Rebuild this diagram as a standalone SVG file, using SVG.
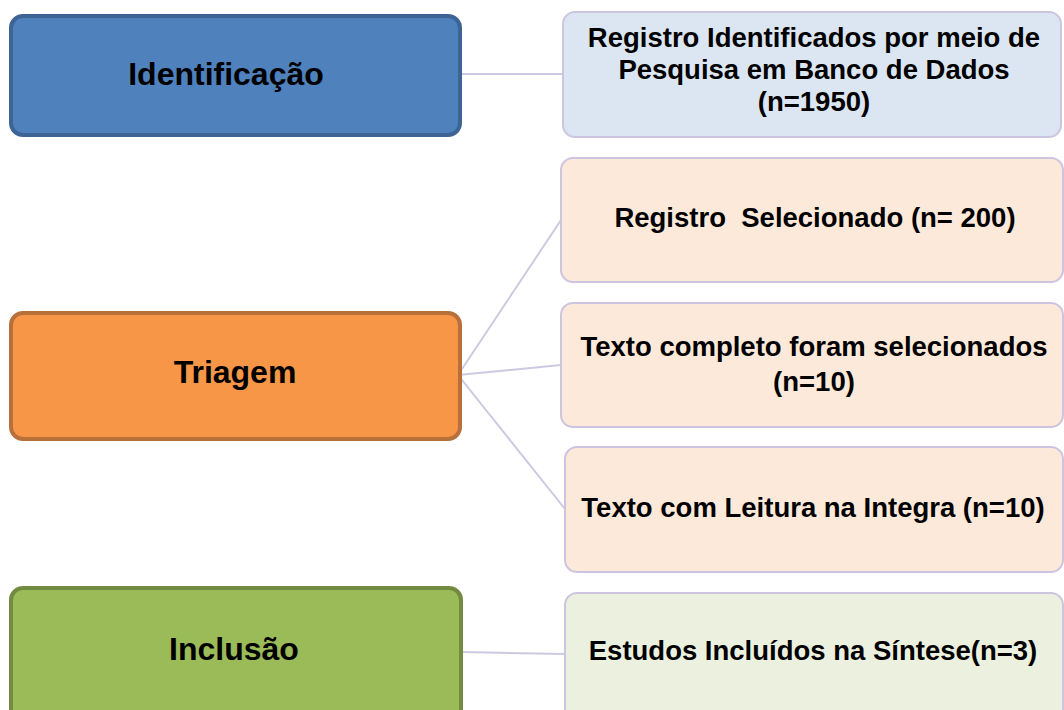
<svg xmlns="http://www.w3.org/2000/svg" width="1064" height="710" viewBox="0 0 1064 710">
<style>
text{font-family:"Liberation Sans",Arial,sans-serif;font-weight:bold;fill:#000;text-anchor:middle}
.big{font-size:32px}
.sm{font-size:27.5px}
.conn{stroke:#cfc8e3;stroke-width:2;fill:none}
.left{stroke-width:4}
.right{stroke:#cdc5e0;stroke-width:2}
</style>
<rect width="1064" height="710" fill="#fff"/>
<g id="connectors">
<line class="conn" x1="461" y1="74" x2="563" y2="74"/>
<line class="conn" x1="458" y1="375" x2="561" y2="220"/>
<line class="conn" x1="458" y1="375" x2="561" y2="365"/>
<line class="conn" x1="458" y1="375" x2="565" y2="509"/>
<line class="conn" x1="462" y1="652" x2="565" y2="654"/>
</g>
<g id="identificacao">
<rect class="left" x="11" y="16" width="449" height="119" rx="12" fill="#4f81bd" stroke="#3d6494"/>
<text class="big" x="226" y="85">Identificação</text>
</g>
<g id="triagem">
<rect class="left" x="11" y="313" width="449" height="126" rx="12" fill="#f79646" stroke="#b8703a"/>
<text class="big" x="235" y="383">Triagem</text>
</g>
<g id="inclusao">
<rect class="left" x="11" y="588" width="450" height="140" rx="12" fill="#9bbb59" stroke="#738b41"/>
<text class="big" x="234" y="660">Inclusão</text>
</g>
<g id="registro-identificados">
<rect class="right" x="563" y="12" width="498" height="125" rx="12" fill="#dce6f2"/>
<text class="sm" x="814" y="47">Registro Identificados por meio de</text>
<text class="sm" x="814" y="79">Pesquisa em Banco de Dados</text>
<text class="sm" x="814" y="111">(n=1950)</text>
</g>
<g id="registro-selecionado">
<rect class="right" x="561" y="158" width="502" height="124" rx="12" fill="#fde9d9"/>
<text class="sm" x="815" y="227" xml:space="preserve">Registro  Selecionado (n= 200)</text>
</g>
<g id="texto-completo">
<rect class="right" x="561" y="303" width="502" height="124" rx="12" fill="#fde9d9"/>
<text class="sm" x="814" y="356">Texto completo foram selecionados</text>
<text class="sm" x="814" y="391">(n=10)</text>
</g>
<g id="texto-leitura">
<rect class="right" x="565" y="447" width="498" height="125" rx="12" fill="#fde9d9"/>
<text class="sm" x="813" y="517">Texto com Leitura na Integra (n=10)</text>
</g>
<g id="estudos-incluidos">
<rect class="right" x="565" y="593" width="498" height="140" rx="12" fill="#ebf1de"/>
<text class="sm" x="813" y="660">Estudos Incluídos na Síntese(n=3)</text>
</g>
</svg>
